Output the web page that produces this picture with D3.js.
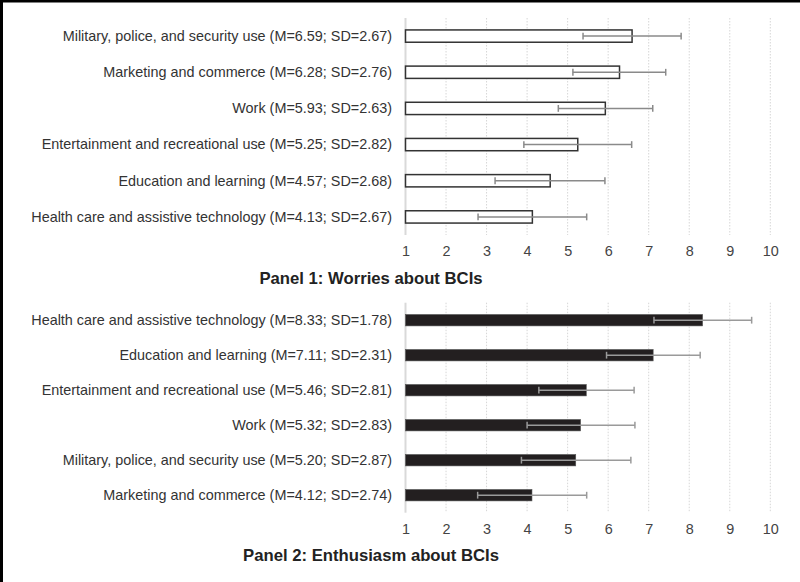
<!DOCTYPE html>
<html>
<head>
<meta charset="utf-8">
<script src="https://cdn.jsdelivr.net/npm/d3@7"></script>
<style>
  html, body { margin: 0; padding: 0; background: #fff; }
  svg { display: block; font-family: "Liberation Sans", Arial, sans-serif; }
</style>
</head>
<body>
<svg id="chart" width="800" height="582"></svg>
<script>
// Panel 1: worries (ordered top to bottom)
const worryLabels = [
  "Military, police, and security use (M=6.59; SD=2.67)",
  "Marketing and commerce (M=6.28; SD=2.76)",
  "Work (M=5.93; SD=2.63)",
  "Entertainment and recreational use (M=5.25; SD=2.82)",
  "Education and learning (M=4.57; SD=2.68)",
  "Health care and assistive technology (M=4.13; SD=2.67)"
];
const worryMeans = [6.59, 6.28, 5.93, 5.25, 4.57, 4.13];
const worryLow   = [5.38, 5.13, 4.77, 3.92, 3.21, 2.79];
const worryHigh  = [7.80, 7.42, 7.10, 6.58, 5.92, 5.47];

// Panel 2: enthusiasm (ordered top to bottom)
const enthLabels = [
  "Health care and assistive technology (M=8.33; SD=1.78)",
  "Education and learning (M=7.11; SD=2.31)",
  "Entertainment and recreational use (M=5.46; SD=2.81)",
  "Work (M=5.32; SD=2.83)",
  "Military, police, and security use (M=5.20; SD=2.87)",
  "Marketing and commerce (M=4.12; SD=2.74)"
];
const enthMeans = [8.33, 7.11, 5.46, 5.32, 5.20, 4.12];
const enthLow   = [7.13, 5.96, 4.29, 4.00, 3.86, 2.78];
const enthHigh  = [9.54, 8.27, 6.64, 6.66, 6.56, 5.47];

const tickValues = [1, 2, 3, 4, 5, 6, 7, 8, 9, 10];
const panelTitles = ["Panel 1: Worries about BCIs", "Panel 2: Enthusiasm about BCIs"];

const svg = d3.select("#chart");

// frame edges (top and left)
svg.append("rect").attr("x", 0).attr("y", 0).attr("width", 800).attr("height", 2.5).attr("fill", "#000");
svg.append("rect").attr("x", 0).attr("y", 0).attr("width", 3).attr("height", 582).attr("fill", "#000");

const x = d3.scaleLinear().domain([1, 10]).range([405.5, 770.3]);

function drawPanel(cfg) {
  const rows = cfg.labels.map((l, i) => ({
    label: l, mean: cfg.means[i], lo: cfg.low[i], hi: cfg.high[i]
  }));
  const y = d3.scaleBand()
    .domain(cfg.labels)
    .range([cfg.top, cfg.bottom])
    .paddingInner(cfg.pad)
    .paddingOuter(cfg.pad / 2);

  const g = svg.append("g");

  // vertical gridlines
  g.selectAll("line.grid")
    .data(tickValues.slice(1))
    .join("line")
    .attr("class", "grid")
    .attr("x1", d => x(d)).attr("x2", d => x(d))
    .attr("y1", cfg.top).attr("y2", cfg.bottom)
    .attr("stroke", "#d6d6d6")
    .attr("stroke-width", 1)
    .attr("stroke-dasharray", "1.5,1.5");

  // baseline at 1
  g.append("line")
    .attr("x1", x(1)).attr("x2", x(1))
    .attr("y1", cfg.top).attr("y2", cfg.bottom)
    .attr("stroke", "#d9d9d9")
    .attr("stroke-width", 2);

  // bars
  g.selectAll("rect.bar")
    .data(rows)
    .join("rect")
    .attr("class", "bar")
    .attr("x", x(1))
    .attr("y", d => y(d.label))
    .attr("width", d => x(d.mean) - x(1))
    .attr("height", y.bandwidth())
    .attr("fill", cfg.fill)
    .attr("stroke", cfg.stroke)
    .attr("stroke-width", cfg.strokeWidth);

  // error bars
  const eb = g.selectAll("g.err").data(rows).join("g").attr("class", "err")
    .attr("transform", d => `translate(0,${y(d.label) + y.bandwidth() / 2})`);
  eb.append("line")
    .attr("x1", d => x(d.lo)).attr("x2", d => x(d.hi))
    .attr("y1", 0).attr("y2", 0)
    .attr("stroke", cfg.errColor).attr("stroke-width", 1.5);
  eb.append("line")
    .attr("x1", d => x(d.lo)).attr("x2", d => x(d.lo))
    .attr("y1", -3.4).attr("y2", 3.4)
    .attr("stroke", cfg.errColor).attr("stroke-width", 1.5);
  eb.append("line")
    .attr("x1", d => x(d.hi)).attr("x2", d => x(d.hi))
    .attr("y1", -3.4).attr("y2", 3.4)
    .attr("stroke", cfg.errColor).attr("stroke-width", 1.5);

  // category labels
  g.selectAll("text.cat")
    .data(rows)
    .join("text")
    .attr("class", "cat")
    .attr("x", 392)
    .attr("y", d => y(d.label) + y.bandwidth() / 2)
    .attr("dy", "0.33em")
    .attr("text-anchor", "end")
    .attr("font-size", "14.4px")
    .attr("fill", "#333")
    .text(d => d.label);

  // x axis
  const axis = d3.axisBottom(x).tickValues(tickValues).tickSize(0).tickPadding(10.6)
    .tickFormat(d3.format("d"));
  const ag = g.append("g").attr("transform", `translate(0,${cfg.bottom})`).call(axis);
  ag.select(".domain").remove();
  ag.selectAll("text").attr("font-size", "14.4px").attr("fill", "#444")
    .attr("font-family", "Liberation Sans, Arial, sans-serif");

  // panel title
  g.append("text")
    .attr("x", 371)
    .attr("y", cfg.titleY)
    .attr("text-anchor", "middle")
    .attr("font-size", "16.7px")
    .attr("font-weight", "bold")
    .attr("fill", "#222")
    .text(cfg.title);
}

drawPanel({
  labels: worryLabels, means: worryMeans, low: worryLow, high: worryHigh,
  top: 18, bottom: 235, pad: 0.66,
  fill: "#fff", stroke: "#333", strokeWidth: 1.5, errColor: "#8a8a8a",
  title: panelTitles[0], titleY: 284
});

drawPanel({
  labels: enthLabels, means: enthMeans, low: enthLow, high: enthHigh,
  top: 302.7, bottom: 512.7, pad: 0.674,
  fill: "#231f20", stroke: "#555", strokeWidth: 0.6, errColor: "#9a9a9a",
  title: panelTitles[1], titleY: 561.3
});
</script>
</body>
</html>
